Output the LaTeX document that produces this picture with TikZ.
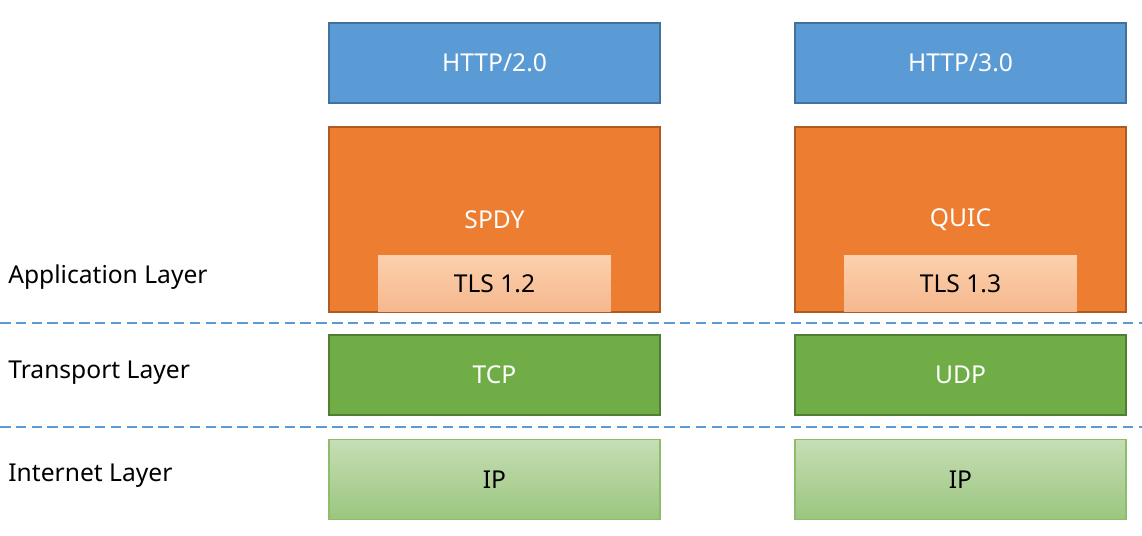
\documentclass[tikz,border=0pt]{standalone}
\usepackage{fontspec}
\setmainfont{Noto Sans}
\usepackage{tikz}
\usetikzlibrary{positioning}
\definecolor{httpblue}{HTML}{5B9BD5}
\definecolor{httpedge}{HTML}{41719C}
\definecolor{apporange}{HTML}{ED7D31}
\definecolor{appedge}{HTML}{AE5A21}
\definecolor{tcpgreen}{HTML}{70AD47}
\definecolor{tcpedge}{HTML}{507E32}
\begin{document}
\begin{tikzpicture}[x=0.02cm,y=-0.02cm,
  font=\fontsize{14}{16}\selectfont\bfseries,
  box/.style={draw, line width=0.8pt, minimum width=6.62cm, minimum height=1.6cm, inner sep=0pt},
  http box/.style={box, fill=httpblue, draw=httpedge, text=white},
  app box/.style={box, fill=apporange, draw=appedge, text=white, minimum height=3.7cm},
  tls box/.style={minimum width=4.66cm, minimum height=1.14cm, inner sep=0pt, top color=orange!20!white!80!apporange, bottom color=apporange!55!white},
  tcp box/.style={box, fill=tcpgreen, draw=tcpedge, text=white},
  ip box/.style={box, draw=tcpgreen!80, top color=tcpgreen!40!white, bottom color=tcpgreen!70!white},
  layer/.style={anchor=west, inner sep=0pt},
  divider/.style={draw=httpblue, dashed, line width=1.2pt, dash pattern=on 6pt off 3pt}]
\useasboundingbox (0,0) rectangle (1142,536);
% left stack
\node[http box] (http2) at (494.5,63) {HTTP/2.0};
\node[app box] (spdy) at (494.5,219.5) {};
\node[white] (spdytxt) at (494.5,220) {SPDY};
\node[tls box] (tls2) at (494.5,283.5) {TLS 1.2};
\node[tcp box] (tcp) at (494.5,375) {TCP};
\node[ip box] (ip2) at (494.5,479.5) {IP};
% right stack
\node[http box] (http3) at (960.5,63) {HTTP/3.0};
\node[app box] (quic) at (960.5,219.5) {};
\node[white] (quictxt) at (960.5,220) {QUIC};
\node[tls box] (tls3) at (960.5,283.5) {TLS 1.3};
\node[tcp box] (udp) at (960.5,375) {UDP};
\node[ip box] (ip3) at (960.5,479.5) {IP};
% layers
\node[layer] (applayer) at (8,277) {Application Layer};
\node[layer] (translayer) at (8,373) {Transport Layer};
\node[layer] (netlayer) at (8,476) {Internet Layer};
\coordinate (d1a) at (0,323); \coordinate (d1b) at (1142,323);
\coordinate (d2a) at (0,427); \coordinate (d2b) at (1142,427);
\draw[divider] (d1a) -- (d1b);
\draw[divider] (d2a) -- (d2b);
\end{tikzpicture}
\end{document}
